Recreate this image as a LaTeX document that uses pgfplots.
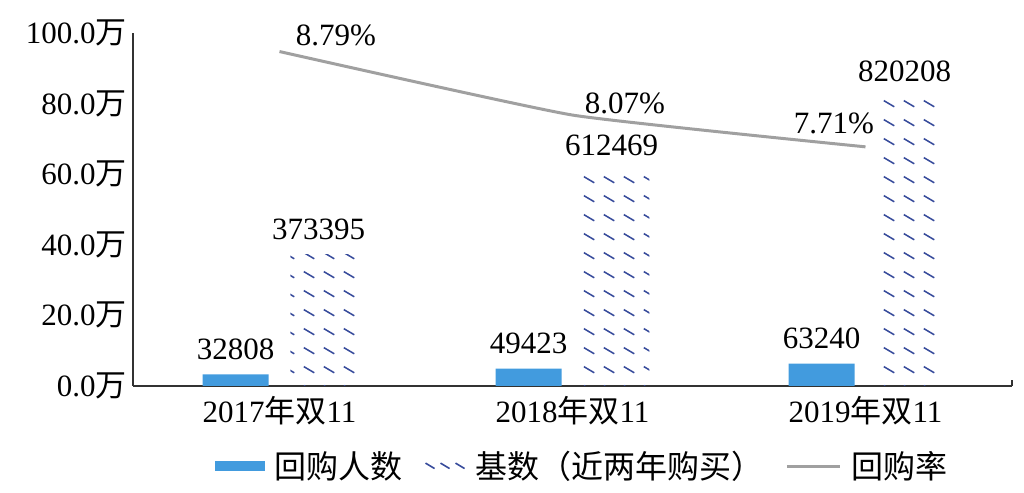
\documentclass[border=0pt]{standalone}
\usepackage{fontspec}
\setmainfont{Liberation Serif}
\newfontfamily\cjk{Noto Sans CJK SC}
\usepackage{pgfplots}
\usepackage{pgfplotstable}
\pgfplotsset{compat=1.18}
\usetikzlibrary{patterns.meta}

\definecolor{barblue}{RGB}{66,155,222}
\definecolor{patblue}{RGB}{55,75,155}
\definecolor{linegray}{RGB}{160,160,160}
\definecolor{axisgray}{RGB}{50,50,50}

\tikzdeclarepattern{
  name=dashgrid,
  type=uncolored,
  bounding box={(0pt,0pt) and (10pt,9.5pt)},
  tile size={(10pt,9.5pt)},
  code={
    \draw[line width=0.8pt] (2pt,6.5pt) -- (7.5pt,3.25pt);
  }
}

\newcommand{\lblfont}{\fontsize{15.5}{18}\selectfont}
\newcommand{\legfont}{\fontsize{16}{18}\selectfont}

\pgfplotstableread{
x y lab dx dy
0 8.79 8.79\% 28.25 8.25
1 8.07 8.07\% 26.25 6
2 7.71 7.71\% -15.75 11.9
}\ratetable

\begin{document}
\begin{tikzpicture}[font=\lblfont]
\path[use as bounding box] (0,0) rectangle (512pt,246.5pt);
\begin{axis}[
  at={(66.5pt,53.5pt)}, anchor=south west,
  scale only axis, width=439.5pt, height=176.5pt,
  xmin=-0.5, xmax=2.5, ymin=0, ymax=100,
  axis lines*=left,
  axis line style={axisgray, line width=0.75pt},
  clip=false,
  xtick={0,1,2},
  xticklabels={2017{\cjk 年双}11, 2018{\cjk 年双}11, 2019{\cjk 年双}11},
  ytick={0,20,40,60,80,100},
  yticklabels={0.0{\cjk 万}, 20.0{\cjk 万}, 40.0{\cjk 万}, 60.0{\cjk 万}, 80.0{\cjk 万}, 100.0{\cjk 万}},
  major tick length=0pt,
  extra x ticks={2.5},
  extra x tick labels={},
  extra x tick style={major tick length=3pt, tick align=inside, tick style={axisgray, line width=0.75pt}},
  tick label style={font=\lblfont, text=black},
  yticklabel style={anchor=east, inner sep=0pt, xshift=-3pt},
  xticklabel style={anchor=north, inner sep=0pt, yshift=-5pt},
  legend style={draw=none, fill=none, at={(0.512,-0.227)}, anchor=center,
    font=\legfont, legend columns=-1,
    /tikz/every odd column/.append style={column sep=3pt},
    /tikz/every even column/.append style={column sep=9pt}},
  legend cell align=left,
]
\addplot[ybar, bar width=0.225, bar shift=-0.15, fill=barblue, draw=none,
  point meta=explicit symbolic, nodes near coords,
  every node near coord/.append style={font=\lblfont, text=black, anchor=south, inner sep=0pt, yshift=7pt, xshift=-21.98pt},
  legend image code/.code={\fill[barblue] (0pt,-2.5pt) rectangle (25pt,2.5pt);}]
  coordinates {(0,3.2808) [32808] (1,4.9423) [49423] (2,6.3240) [63240]};
\addlegendentry{{\cjk 回购人数}}
\addplot[ybar, bar width=0.225, bar shift=0.15, draw=none,
  pattern=dashgrid, pattern color=patblue,
  point meta=explicit symbolic, nodes near coords,
  every node near coord/.append style={font=\lblfont, text=black, anchor=south, inner sep=0pt, yshift=7pt, xshift=19.5pt},
  legend image code/.code={\draw[patblue, line width=0.8pt] (0pt,1.5pt)--(4.5pt,-1.2pt) (7.5pt,1.5pt)--(12pt,-1.2pt) (15pt,1.5pt)--(19.5pt,-1.2pt);}]
  coordinates {(0,37.3395) [373395] (1,61.2469) [612469] (2,82.0208) [820208]};
\addlegendentry{{\cjk 基数（近两年购买）}}
\addlegendimage{legend image code/.code={\draw[linegray, line width=1.5pt] (0pt,0pt) -- (26.5pt,0pt);}}
\addlegendentry{{\cjk 回购率}}
\end{axis}
\begin{axis}[
  at={(66.5pt,53.5pt)}, anchor=south west,
  scale only axis, width=439.5pt, height=176.5pt,
  xmin=-0.5, xmax=2.5, ymin=5, ymax=9,
  hide axis, clip=false,
]
\addplot[smooth, tension=0.25, linegray, line width=1.5pt, mark=none,
  point meta=explicit symbolic, nodes near coords,
  visualization depends on={\thisrow{dx} \as \labdx},
  visualization depends on={\thisrow{dy} \as \labdy},
  every node near coord/.append style={font=\lblfont, text=black, anchor=center, inner sep=0pt, xshift=\labdx pt, yshift=\labdy pt}]
  table[x=x, y=y, meta=lab] {\ratetable};
\end{axis}
\end{tikzpicture}
\end{document}
